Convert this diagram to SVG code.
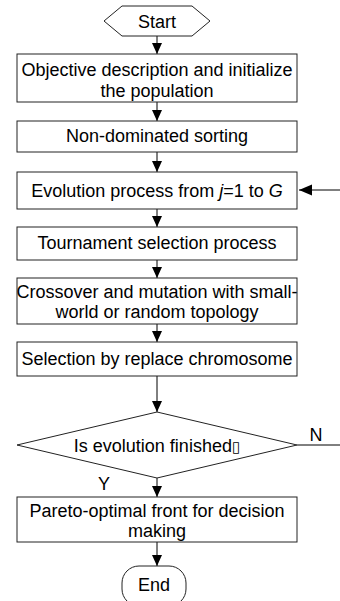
<svg xmlns="http://www.w3.org/2000/svg" width="340" height="601" viewBox="0 0 340 601">
  <style>
    .box { fill: #fff; stroke: #222; stroke-width: 1; }
    .lbl { font-family: "Liberation Sans", Arial, sans-serif; font-size: 18px; fill: #000; text-anchor: middle; }
    .edge { stroke: #000; stroke-width: 1; fill: none; }
  </style>
  <defs>
    <marker id="arrow" markerWidth="11" markerHeight="12" refX="11" refY="5" orient="auto" markerUnits="userSpaceOnUse">
      <path d="M0,0 L11,5 L0,10 Z" fill="#000"/>
    </marker>
    <marker id="arrowBig" markerWidth="14" markerHeight="12" refX="13" refY="5.5" orient="auto" markerUnits="userSpaceOnUse">
      <path d="M0,0 L13,5.5 L0,11 Z" fill="#000"/>
    </marker>
  </defs>
  <rect width="340" height="601" fill="#fff"/>

  <g id="connectors">
    <line class="edge" x1="157" y1="36" x2="157" y2="54" marker-end="url(#arrow)"/>
    <line class="edge" x1="157" y1="102" x2="157" y2="121" marker-end="url(#arrow)"/>
    <line class="edge" x1="157" y1="152" x2="157" y2="172" marker-end="url(#arrow)"/>
    <line class="edge" x1="157" y1="209" x2="157" y2="227" marker-end="url(#arrow)"/>
    <line class="edge" x1="157" y1="260" x2="157" y2="278" marker-end="url(#arrow)"/>
    <line class="edge" x1="157" y1="324" x2="157" y2="342" marker-end="url(#arrow)"/>
    <line class="edge" x1="157" y1="376" x2="157" y2="412" marker-end="url(#arrow)"/>
    <line class="edge" x1="157" y1="478" x2="157" y2="497" marker-end="url(#arrow)"/>
    <line class="edge" x1="157" y1="542" x2="157" y2="566" marker-end="url(#arrow)"/>
    <!-- loop back: "N" branch leaves the decision and re-enters the evolution step -->
    <line class="edge" x1="297" y1="445" x2="340" y2="445"/>
    <line class="edge" x1="340" y1="190" x2="299" y2="190" marker-end="url(#arrowBig)"/>
    <text class="lbl" x="316" y="441">N</text>
    <text class="lbl" x="104" y="490">Y</text>
  </g>

  <g id="start">
    <polygon class="box" points="104,21 122,6 192,6 210,21 192,36 122,36"/>
    <text class="lbl" x="157" y="28">Start</text>
  </g>

  <g id="init">
    <rect class="box" x="17" y="54" width="280" height="48"/>
    <text class="lbl" x="157" y="76">Objective description and initialize</text>
    <text class="lbl" x="157" y="97">the population</text>
  </g>

  <g id="sorting">
    <rect class="box" x="17" y="121" width="280" height="31"/>
    <text class="lbl" x="157" y="142">Non-dominated sorting</text>
  </g>

  <g id="evolution">
    <rect class="box" x="17" y="172" width="280" height="37"/>
    <text class="lbl" x="157" y="197">Evolution process from <tspan font-style="italic">j</tspan>=1 to <tspan font-style="italic">G</tspan></text>
  </g>

  <g id="tournament">
    <rect class="box" x="17" y="227" width="280" height="33"/>
    <text class="lbl" x="157" y="249">Tournament selection process</text>
  </g>

  <g id="crossover">
    <rect class="box" x="17" y="278" width="280" height="46"/>
    <text class="lbl" x="157" y="298">Crossover and mutation with small-</text>
    <text class="lbl" x="157" y="318">world or random topology</text>
  </g>

  <g id="replace">
    <rect class="box" x="17" y="342" width="280" height="34"/>
    <text class="lbl" x="157" y="365">Selection by replace chromosome</text>
  </g>

  <g id="finished">
    <polygon class="box" points="157,412 297,445 157,478 17,445"/>
    <text class="lbl" x="157" y="452">Is evolution finished<tspan font-family="'DejaVu Sans', sans-serif" font-size="15px">▯</tspan></text>
  </g>

  <g id="pareto">
    <rect class="box" x="17" y="497" width="280" height="45"/>
    <text class="lbl" x="157" y="517">Pareto-optimal front for decision</text>
    <text class="lbl" x="157" y="537">making</text>
  </g>

  <g id="end">
    <rect class="box" x="122" y="566" width="64" height="40" rx="17" ry="17"/>
    <text class="lbl" x="154" y="591">End</text>
  </g>
</svg>
